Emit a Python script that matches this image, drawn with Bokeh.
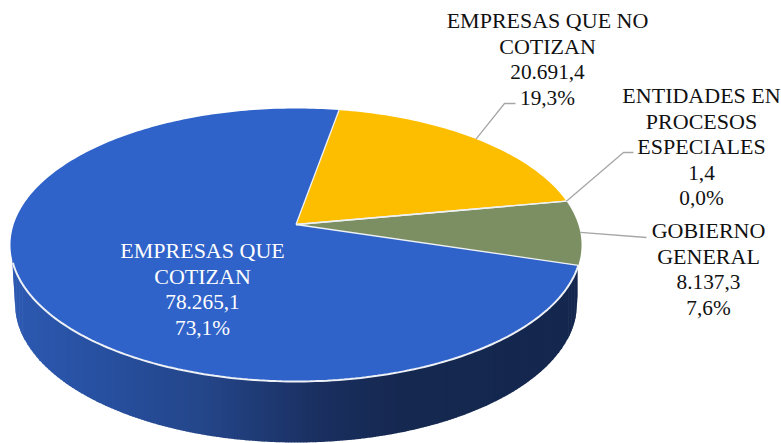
import math
from bokeh.embed import file_html
from bokeh.models import Range1d
from bokeh.plotting import figure
from bokeh.resources import INLINE
from bokeh.core.properties import value

# ---- data ----
categories = ["EMPRESAS QUE COTIZAN", "EMPRESAS QUE NO COTIZAN",
              "ENTIDADES EN PROCESOS ESPECIALES", "GOBIERNO GENERAL"]
values = [78265.1, 20691.4, 1.4, 8137.3]
value_labels = ["78.265,1", "20.691,4", "1,4", "8.137,3"]
percent_labels = ["73,1%", "19,3%", "0,0%", "7,6%"]
name_lines = [["EMPRESAS QUE", "COTIZAN"], ["EMPRESAS QUE NO", "COTIZAN"],
              ["ENTIDADES EN", "PROCESOS", "ESPECIALES"], ["GOBIERNO", "GENERAL"]]
slice_colors = ["#3063C9", "#FDBE00", "#A5A5A5", "#7C8F62"]
label_colors = ["#FFFFFF", "#111111", "#111111", "#111111"]

# ---- layout ----
W, H = 781, 443
APEX_X, APEX_Y = 295.5, 224.0
PERSP = 0.15
A, B = 282.3, 133.4
START_DEG = 107.0
ELL_CY, ELL_RX, ELL_RY = 244.5, 285.5, 136.5
BOT_CY, BOT_RX, BOT_RY = 303.0, 281.0, 139.0
FONT = value("Liberation Serif")
FS_NAME, FS_NUM = "22px", "21.3px"
PITCH = 25.7
label_centers = [(202, 250), (547, 20), (701, 95), (708, 230)]
leader_elbows = [None, [(504, 103), (515, 103)], [(623, 152), (633, 152)], [(646, 237)]]


def project(theta_deg, r=1.0):
    t = math.radians(theta_deg)
    u, v = r * math.sin(t), r * math.cos(t)
    w = 1 + PERSP * v
    return APEX_X + A * u / w, APEX_Y - B * v / w


p = figure(width=W, height=H, output_backend="svg", toolbar_location=None,
           x_range=Range1d(0, W), y_range=Range1d(H, 0),
           min_border=0, outline_line_color=None, background_fill_color="white")
p.axis.visible = False
p.grid.visible = False


def lerp_color(x):
    stops = [(10, (45, 89, 178)), (100, (39, 80, 160)), (200, (36, 70, 138)),
             (320, (26, 47, 96)), (400, (21, 40, 80)), (585, (20, 39, 78))]
    for (x0, c0), (x1, c1) in zip(stops, stops[1:]):
        if x <= x1:
            f = (x - x0) / (x1 - x0)
            return "#%02x%02x%02x" % tuple(round(a + (b - a) * f) for a, b in zip(c0, c1))
    return "#14274e"


def top_arc_y(x):
    d = min(1.0, abs(x - APEX_X) / ELL_RX)
    return ELL_CY + ELL_RY * math.sqrt(1 - d * d)


def bot_arc_y(x):
    dx = abs(x - APEX_X)
    if dx < BOT_RX:
        return BOT_CY + BOT_RY * math.sqrt(1 - (dx / BOT_RX) ** 2)
    return BOT_CY - (dx - BOT_RX) / 2.5 * 38


# side wall of the disc, as a horizontal gradient
xs_side, ys_side, cs_side = [], [], []
SIDE_L, SIDE_R = APEX_X - 283.5, APEX_X + 281.5
x = SIDE_L
STEP = 3.0
while x < SIDE_R:
    x2 = min(x + STEP, SIDE_R)
    # fine columns at the two ends, where the outline is steep
    if x - SIDE_L < 12 or SIDE_R - x < 12:
        x2 = min(x + 0.75, SIDE_R)
    x2o = min(x2 + 0.6, SIDE_R)
    xs_side.append([x, x2o, x2o, x])
    ys_side.append([top_arc_y(x) - 2, top_arc_y(x2o) - 2,
                    max(bot_arc_y(x2o), top_arc_y(x2o) - 2),
                    max(bot_arc_y(x), top_arc_y(x) - 2)])
    cs_side.append(lerp_color((x + x2) / 2))
    x = x2
p.patches(xs_side, ys_side, fill_color=cs_side, line_color=None)

# slices: clockwise from the start angle
total = sum(values)
angles = [START_DEG]
for v in values:
    angles.append(angles[-1] + v / total * 360)

xs, ys = [], []
for a0, a1 in zip(angles, angles[1:]):
    n = max(2, int((a1 - a0) / 1.0))
    pts = [project(a0 + (a1 - a0) * i / n) for i in range(n + 1)]
    xs.append([APEX_X] + [q[0] for q in pts])
    ys.append([APEX_Y] + [q[1] for q in pts])
p.patches(xs, ys, fill_color=slice_colors, line_color=None)

# white edges: radial separators and the front rim
edge_x, edge_y = [], []
for a in angles[:-1]:
    ex, ey = project(a)
    edge_x.append([APEX_X, ex])
    edge_y.append([APEX_Y, ey])
p.multi_line(edge_x, edge_y, line_color="#EEF1F6", line_width=1.3)
rim_front = [project(angles[0] + (254 - angles[0]) * i / 150) for i in range(151)]
p.line([q[0] for q in rim_front], [q[1] for q in rim_front], line_color="#EEF1F6", line_width=2)

# leader lines, starting at the middle of each outside slice
for i, elbow in enumerate(leader_elbows):
    if not elbow:
        continue
    ang = (angles[i] + angles[i + 1]) / 2
    sx, sy = project(ang)
    p.line([sx] + [q[0] for q in elbow], [sy] + [q[1] for q in elbow],
           line_color="#A6A6A6", line_width=1.3)

# labels
for i, (cx0, cy0) in enumerate(label_centers):
    names = name_lines[i]
    nums = [value_labels[i], percent_labels[i]]
    p.text([cx0] * len(names), [cy0 + PITCH * k for k in range(len(names))], text=names,
           text_font=FONT, text_font_size=FS_NAME, text_color=label_colors[i],
           text_align="center", text_baseline="middle")
    p.text([cx0] * len(nums), [cy0 + PITCH * (len(names) + k) for k in range(len(nums))], text=nums,
           text_font=FONT, text_font_size=FS_NUM, text_color=label_colors[i],
           text_align="center", text_baseline="middle")

open("out.html", "w").write(file_html(p, INLINE))
